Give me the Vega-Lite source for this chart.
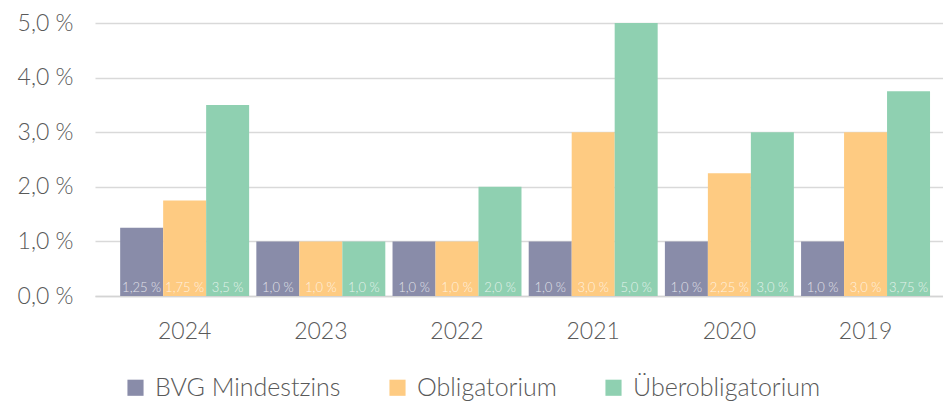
{
  "$schema": "https://vega.github.io/schema/vega-lite/v6.json",
  "width": 848,
  "height": 273,
  "autosize": {"type": "none"},
  "padding": {"left": 95, "top": 23, "right": 0, "bottom": 111},
  "background": "white",
  "config": {
    "view": {"stroke": null},
    "font": "Lato"
  },
  "data": {
    "values": [
      {"year": "2024", "series": "BVG Mindestzins", "value": 1.25, "label": "1,25 %"},
      {"year": "2024", "series": "Obligatorium", "value": 1.75, "label": "1,75 %"},
      {"year": "2024", "series": "Überobligatorium", "value": 3.5, "label": "3,5 %"},
      {"year": "2023", "series": "BVG Mindestzins", "value": 1.0, "label": "1,0 %"},
      {"year": "2023", "series": "Obligatorium", "value": 1.0, "label": "1,0 %"},
      {"year": "2023", "series": "Überobligatorium", "value": 1.0, "label": "1,0 %"},
      {"year": "2022", "series": "BVG Mindestzins", "value": 1.0, "label": "1,0 %"},
      {"year": "2022", "series": "Obligatorium", "value": 1.0, "label": "1,0 %"},
      {"year": "2022", "series": "Überobligatorium", "value": 2.0, "label": "2,0 %"},
      {"year": "2021", "series": "BVG Mindestzins", "value": 1.0, "label": "1,0 %"},
      {"year": "2021", "series": "Obligatorium", "value": 3.0, "label": "3,0 %"},
      {"year": "2021", "series": "Überobligatorium", "value": 5.0, "label": "5,0 %"},
      {"year": "2020", "series": "BVG Mindestzins", "value": 1.0, "label": "1,0 %"},
      {"year": "2020", "series": "Obligatorium", "value": 2.25, "label": "2,25 %"},
      {"year": "2020", "series": "Überobligatorium", "value": 3.0, "label": "3,0 %"},
      {"year": "2019", "series": "BVG Mindestzins", "value": 1.0, "label": "1,0 %"},
      {"year": "2019", "series": "Obligatorium", "value": 3.0, "label": "3,0 %"},
      {"year": "2019", "series": "Überobligatorium", "value": 3.75, "label": "3,75 %"}
    ]
  },
  "encoding": {
    "x": {
      "field": "year",
      "type": "nominal",
      "sort": ["2024", "2023", "2022", "2021", "2020", "2019"],
      "scale": {"paddingInner": 0.053, "paddingOuter": 0.14, "align": 0.66},
      "axis": {
        "title": null,
        "labelAngle": 0,
        "ticks": false,
        "domain": true,
        "domainColor": "#d4d4d4",
        "domainWidth": 1.5,
        "labelFontSize": 23,
        "labelFontWeight": 300,
        "labelColor": "#595959",
        "labelPadding": 24,
        "grid": false
      }
    },
    "xOffset": {
      "field": "series",
      "type": "nominal",
      "sort": ["BVG Mindestzins", "Obligatorium", "Überobligatorium"],
      "scale": {"paddingInner": 0, "paddingOuter": 0}
    }
  },
  "layer": [
    {
      "mark": {"type": "bar"},
      "encoding": {
        "y": {
          "field": "value",
          "type": "quantitative",
          "scale": {"domain": [0, 5], "nice": false},
          "axis": {
            "title": null,
            "values": [0, 0.5, 1, 1.5, 2, 2.5, 3, 3.5, 4, 4.5, 5],
            "labelExpr": "datum.value % 1 === 0 ? replace(format(datum.value, '.1f'), '.', ',') + ' %' : ''",
            "ticks": false,
            "domain": false,
            "gridColor": "#d9d9d9",
            "gridWidth": 1.5,
            "labelFontSize": 23,
            "labelFontWeight": 300,
            "labelColor": "#595959",
            "labelPadding": 22
          }
        },
        "color": {
          "field": "series",
          "type": "nominal",
          "sort": ["BVG Mindestzins", "Obligatorium", "Überobligatorium"],
          "scale": {
            "domain": ["BVG Mindestzins", "Obligatorium", "Überobligatorium"],
            "range": ["#898ca9", "#fecb82", "#8fd0b1"]
          },
          "legend": {
            "title": null,
            "orient": "none",
            "direction": "horizontal",
            "legendX": 28,
            "legendY": 352,
            "symbolType": "square",
            "symbolSize": 260,
            "symbolStrokeWidth": 0,
            "labelFontSize": 25,
            "labelFontWeight": 300,
            "labelLimit": 0,
            "labelColor": "#595959",
            "labelOffset": 7,
            "columnPadding": 44
          }
        }
      }
    },
    {
      "mark": {
        "type": "text",
        "baseline": "alphabetic",
        "align": "center",
        "dy": -4,
        "fontSize": 13,
        "fontWeight": 300,
        "fill": "white",
        "opacity": 0.75
      },
      "encoding": {
        "y": {"datum": 0, "type": "quantitative"},
        "text": {"field": "label", "type": "nominal"}
      }
    }
  ]
}
